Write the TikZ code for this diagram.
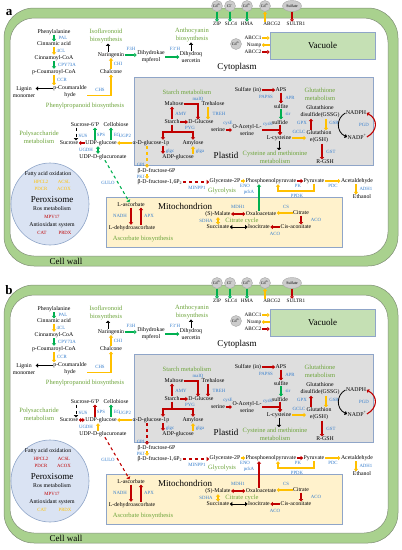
\documentclass[tikz,border=0pt]{standalone}
\usepackage{fontspec}
\setmainfont{Liberation Serif}
\usetikzlibrary{arrows.meta,shapes.geometric}

\definecolor{mred}{RGB}{192,0,0}
\definecolor{myel}{RGB}{255,192,0}
\definecolor{mgrn}{RGB}{0,176,80}
\definecolor{mblue}{RGB}{52,125,205}
\definecolor{mtitle}{RGB}{110,165,60}
\definecolor{wallg}{RGB}{169,209,142}
\definecolor{wallline}{RGB}{125,140,115}
\definecolor{vacg}{RGB}{197,224,180}
\definecolor{plastg}{RGB}{222,222,222}
\definecolor{mitoy}{RGB}{255,242,204}
\definecolor{peroxb}{RGB}{218,227,243}
\definecolor{boxline}{RGB}{143,165,200}
% enzyme text colours, one per panel
\colorlet{aFA}{myel}\colorlet{bFA}{mred}
\colorlet{aAOX}{mred}\colorlet{bAOX}{myel}

\newcommand{\cellpanel}[1]{%
  % cell wall and compartments
  \draw[wall] (4,8) rectangle (398,266);
  \draw[wall,fill=white,rounded corners=24pt] (10,18) rectangle (388,256);
  \draw[box,fill=plastg] (134,77) rectangle (373,165);
  \draw[box,fill=mitoy] (106,197) rectangle (342,247);
  \draw[box,fill=peroxb] (50,204) ellipse [x radius=39pt,y radius=41pt];
  \node[box,fill=vacg,comp,minimum width=105,minimum height=27] (vac) at (322.5,45.5) {Vacuole};
  \node[font=\bfseries\fontsize{13}{13}\selectfont,inner sep=0pt] (tag) at (9,13) {#1};
  \node[comp] (wallname) at (66,261) {Cell wall};
  \node[comp] (cyto) at (237,67) {Cytoplasm};
  \node[comp] (plastname) at (226,155) {Plastid};
  \node[comp] (mitoname) at (185,206) {Mitochondrion};
  \node[comp] (peroxname) at (52,200) {Peroxisome};
  % transport at the membranes
  \node[ion] (cd1) at (217,6) {Cd\textsuperscript{2+}};
  \node[ion] (cl) at (230,6) {Cl\textsuperscript{−}};
  \node[ion] (cd2) at (247,6) {Cd\textsuperscript{2+}};
  \node[ion] (cd3) at (265,6) {Cd\textsuperscript{2+}};
  \node[ion,ellipse,minimum width=19pt,minimum height=11pt] (sulf) at (292,6) {Sulfate};
  \node[tp] (zip) at (217,24) {ZIP};
  \node[tp] (slc) at (231,24) {SLC4};
  \node[tp] (hma) at (247,24) {HMA};
  \node[tp] (abcg) at (272,24) {ABCG2};
  \node[tp] (sultr) at (296,24) {SULTR1};
  \node[ion] (cdv) at (236,44) {Cd\textsuperscript{2+}};
  \node[tp] (abcc1) at (253,38) {ABCC1};
  \node[tp] (nramp) at (254,45) {Nramp};
  \node[tp] (abcc2) at (253,52) {ABCC2};
  \draw[gn] (cd1) -- (zip);
  \draw[gn] (cl) -- (cl |- slc.north);
  \draw[gn] (cd2) -- (hma);
  \draw[yl] (cd3 |- abcg.north) -- (cd3);
  \draw[rd] (sulf) -- (sulf |- sultr.north);
  \draw[yl] (abcc1) -- (abcc1 -| vac.west);
  \draw[yl] (nramp -| vac.west) -- (nramp);
  \draw[rd] (abcc2) -- (abcc2 -| vac.west);
  % phenylpropanoid
  \node[txt] (phe) at (54,32) {Phenylalanine};
  \node[txt] (cin) at (54,44) {Cinnamic acid};
  \node[txt] (cinc) at (54,58) {Cinnamoyl-CoA};
  \node[txt] (pcou) at (54,72) {p-Coumaroyl-CoA};
  \node[txt] (pcald) at (70,92) {p-Coumaralde\\hyde};
  \node[txt] (lig) at (24,92) {Lignin\\monomer};
  \node[txt] (cha) at (111,72) {Chalcone};
  \node[txt] (nar) at (111,55) {Naringenin};
  \node[txt] (dhk) at (151,57) {Dihydrokae\\mpferol};
  \node[txt] (dhq) at (191,57) {Dihydroq\\uercetin};
  \node[ttl] (isoT) at (106,36) {Isoflavonoid\\biosynthesis};
  \node[ttl] (anthoT) at (192,35) {Anthocyanin\\biosynthesis};
  \node[ttl] (phenT) at (85,106) {Phenylpropanoid biosynthesis};
  \node[enz] (lPAL) at (63,38) {PAL};
  \node[enz] (l4CL) at (61,51) {4CL};
  \node[enz] (lCPY) at (67,65) {CPY73A};
  \node[enz] (lCCR) at (62,80) {CCR};
  \node[enz] (lCHS) at (100,90) {CHS};
  \node[enz] (lCHI) at (118,64) {CHI};
  \node[enz] (lF3H) at (131,49) {F3H};
  \node[enz] (lF3pH) at (175,49) {F3'H};
  \draw[gn] (phe) -- (cin);
  \draw[yl] (cin) -- (cinc);
  \draw[gn] (cinc) -- (pcou);
  \draw[yl] (pcou) -- (pcou |- pcald.north);
  \draw[bk] ([yshift=3.5pt]pcald.west) -- ([yshift=3.5pt]lig.east);
  \draw[yl] ([yshift=-3.5pt]pcald.east) -| (cha);
  \draw[yl] (cha) -- (nar);
  \draw[bk] ([xshift=-3pt]nar.north) -- ([xshift=-3pt]nar.north |- isoT.south);
  \draw[gn] (nar) -- (nar -| dhk.west);
  \draw[gn] (dhk) -- (dhq);
  \draw[bk] (dhq) -- (dhq |- anthoT.south);
  % polysaccharide
  \node[ttl] (polyT) at (39,137) {Polysaccharide\\metabolism};
  \node[txt] (s6p) at (85,125) {Sucrose-6'P};
  \node[txt] (cello) at (116,125) {Cellobiose};
  \node[txt] (suc) at (69,143) {Sucrose};
  \node[txt] (udpg) at (101,143) {UDP-glucose};
  \node[txt] (udpgl) at (103,157) {UDP-D-glucuronate};
  \node[enz] (lSUS) at (83,136) {SUS};
  \node[enz] (lSPS) at (101,135) {SPS};
  \node[enz] (lEG) at (117,135) {EG};
  \node[enz] (lUGDH) at (86,150) {UGDH};
  \node[enz] (lUGP2) at (125,136) {UGP2};
  \node[enz] (lGULO) at (108,183) {GULO};
  \draw[bk,dashed,line width=0.7pt] ([xshift=-9pt]s6p.south) -- ([xshift=-9pt]s6p.south |- suc.north);
  \draw[#1SUS] (udpg) -- (suc);
  \draw[#1SPS] ([xshift=-6pt]udpg.north) -- ([xshift=-6pt]udpg.north |- s6p.south);
  \draw[gn] ([xshift=10pt]udpg.north) -- ([xshift=10pt]udpg.north |- cello.south);
  \draw[#1UGDH] ([xshift=-3pt]udpg.south) -- ([xshift=-3pt]udpg.south |- udpgl.north);
  % plastid: starch
  \node[ttl] (starchT) at (187,92) {Starch metabolism};
  \node[txt] (malt) at (174,104) {Maltose};
  \node[txt] (treh) at (213,104) {Trehalose};
  \node[txt] (starch) at (172,122) {Starch};
  \node[txt] (dglc) at (201,122) {D-Glucose};
  \node[txt] (ser) at (218,130) {serine};
  \node[txt] (oas) at (247,130) {O-Acetyl-L-\\serine};
  \node[txt] (a1p) at (151,143) {α-D-glucose-1p};
  \node[txt] (amyl) at (193,143) {Amylose};
  \node[txt] (adpg) at (178,157) {ADP-glucose};
  \coordinate (bl) at (163,132);
  \coordinate (br) at (193,132);
  \node[enz] (lmalQ) at (198,99) {malQ};
  \node[enz] (lAMY) at (181,114) {AMY};
  \node[enz] (lTREH) at (219,114) {TREH};
  \node[enz] (lPYG) at (190,127.5) {PYG};
  \node[enz] (lglgc) at (170,151) {glgc};
  \node[enz] (lglga) at (200,151) {glga};
  \node[enz] (lcysE) at (228,123) {cysE};
  \node[enz] (lcysK) at (268,124) {cysK};
  \draw[rd] (malt) -| ([xshift=-3pt]dglc.north);
  \draw[#1TREH] ([xshift=-5pt]treh.south) -- ([xshift=-5pt]treh.south |- dglc.north);
  \draw[rd] (starch) -- (starch |- malt.south);
  \draw[rd] (starch) -- (dglc);
  \draw[rd,-] (starch) -- (starch |- bl);
  \draw[rd,<->] (bl |- a1p.north) -- (bl) -- (br) -- (br |- amyl.north);
  \draw[rd] (bl |- a1p.south) -- (bl |- adpg.north);
  \draw[yl] (br |- adpg.north) -- (br |- amyl.south);
  \draw[yl] (a1p) -- (udpg);
  \draw[rd] (ser) -- (oas);
  % plastid: sulfur and glutathione
  \node[txt] (sulfin) at (248,90) {Sulfate (in)};
  \node[txt] (aps) at (281,90) {APS};
  \node[txt] (sulfite) at (281,106) {sulfite};
  \node[txt] (sulfide) at (280,122) {sulfide};
  \node[txt] (lcys) at (279,138) {L-cysteine};
  \node[ttl] (cysmetT) at (275,157) {Cysteine and methionine\\metabolism};
  \node[ttl] (gluT) at (320,94) {Glutathione\\metabolism};
  \node[txt] (gssg) at (320,112) {Glutathione\\disulfide(GSSG)};
  \node[txt] (gsh) at (319,137) {Glutathion\\e(GSH)};
  \node[txt] (rgsh) at (325,162) {R-GSH};
  \node[txt] (nadph) at (356,113) {NADPH};
  \node[txt] (nadp) at (357,137) {NADP\textsuperscript{+}};
  \node[enz] (lPAPSS) at (266,97) {PAPSS};
  \node[enz] (lAPR) at (290,98) {APR};
  \node[enz] (lsir) at (288,114) {sir};
  \node[enz] (lGCLC) at (299,132) {GCLC};
  \node[enz] (lGPX) at (302,123) {GPX};
  \node[enz] (lGSR) at (334,123) {GSR};
  \node[enz] (lGST) at (331,152) {GST};
  \node[enz] (lPGD) at (364,125) {PGD};
  \draw[rd] (sulfin) -- (aps);
  \draw[rd] (aps) -- (aps |- sulfite.north);
  \draw[gn] (sulfite) -- (sulfite |- sulfide.north);
  \draw[rd] (sulfide) -- (sulfide |- lcys.north);
  \draw[rd] (oas) -| (sulfide |- lcys.north);
  \draw[bk] (lcys) -- (lcys |- cysmetT.north);
  \draw[yl] (lcys) -- (lcys -| gsh.west);
  \draw[rd] ([xshift=-8pt]gsh.north) -- ([xshift=-8pt]gsh.north |- gssg.south);
  \draw[yl] ([xshift=6pt]gssg.south) -- ([xshift=6pt]gssg.south |- gsh.north);
  \draw[rd] ([xshift=3pt]gsh.south) -- ([xshift=3pt]gsh.south |- rgsh.north);
  \draw[bk,line width=0.8pt] (nadph.west) .. controls (336,118) and (336,132) .. (nadp.west);
  \draw[rd,line width=1.1pt] (nadp.east) .. controls (378,131) and (378,119) .. (nadph.east);
  % glycolysis
  \node[txt,anchor=west] (f6p) at (137,171) {β-D-fructose-6P};
  \node[txt,anchor=west] (f16p) at (137,182) {β-D-fructose-1,6P\textsubscript{2}};
  \node[txt] (gly2p) at (225,181) {Glycerate-2P};
  \node[txt] (pep) at (271,181) {Phosphoenolpyruvate};
  \node[txt] (pyr) at (314,181) {Pyruvate};
  \node[txt] (acet) at (357,181) {Acetaldehyde};
  \node[txt] (eth) at (362,197) {Ethanol};
  \node[ttl] (glycT) at (222,191) {Glycolysis};
  \node[enz,anchor=east] (lGPI) at (145,165) {GPI};
  \node[enz,anchor=east] (lPKf) at (145,176.5) {PKf};
  \node[enz] (lMINPP1) at (197,188) {MINPP1};
  \node[enz] (lENO) at (245,186) {ENO};
  \node[enz] (lpckA) at (249,192) {pckA};
  \node[enz] (lPK) at (298,186) {PK};
  \node[enz] (lPPDK) at (297,196) {PPDK};
  \node[enz] (lPDC) at (333,186) {PDC};
  \node[enz,anchor=west] (lADH1) at (359,189) {ADH1};
  \draw[#1GPI] ([xshift=-4pt]a1p.south) -- ([xshift=-4pt]a1p.south |- f6p.north);
  \draw[yl] ([xshift=10pt]f6p.south west) -- ([xshift=10pt]f6p.south west |- f16p.north);
  \draw[rd,dashed,line width=1.1pt] (f16p) -- (f16p -| gly2p.west);
  \draw[yl] (gly2p) -- (pep);
  \draw[rd] (pep) -- (pyr);
  \draw[yl] (pyr) -- (acet);
  \draw[yl] ([xshift=-1pt]acet.south) -- ([xshift=-1pt]acet.south |- eth.north);
  \draw[yl] (pyr.south) -- ++(0,7) -| ([xshift=7pt]pep.south);
  % mitochondrion
  \node[txt] (lasc) at (131,205) {L-ascorbate};
  \node[txt] (ldha) at (132,228) {L-dehydroascorbate};
  \node[ttl] (ascT) at (143,239) {Ascorbate biosynthesis};
  \node[txt] (malate) at (218,214) {(S)-Malate};
  \node[txt] (oxa) at (261,214) {Oxaloacetate};
  \node[txt] (citr) at (301,213) {Citrate};
  \node[txt] (succ) at (218,227) {Succinate};
  \node[txt] (iso2) at (259,227) {Isocitrate};
  \node[txt] (cis) at (296,227) {Cis-aconitate};
  \node[ttl] (citT) at (242,220.5) {Citrate cycle};
  \node[enz] (lNADH) at (120,216) {NADH};
  \node[enz] (lAPX) at (149,216) {APX};
  \node[enz] (lMDH1) at (238,207) {MDH1};
  \node[enz] (lSDHA) at (206,221) {SDHA};
  \node[enz] (lCS) at (286,207) {CS};
  \node[enz] (lACO) at (316,220) {ACO};
  \node[enz] (lACOb) at (275,234) {ACO};
  \draw[rd] (lasc) -- (lasc |- ldha.north);
  \draw[rd] ([xshift=9pt]ldha.north) -- ([xshift=9pt]ldha.north |- lasc.south);
  \draw[rd,<->] (malate) -- (malate -| oxa.west);
  \draw[yl,dashed,<->,line width=1.1pt] (malate) -- (succ);
  \draw[bk,<->] (succ) -- (iso2);
  \draw[rd] (cis) -- (iso2);
  \draw[yl] (citr) -- (citr -| oxa.east);
  \draw[rd] (citr) -- (citr |- cis.north);
  \draw[#1pckA] ([xshift=-2pt]oxa.north) -- ([xshift=-2pt]oxa.north |- pep.south);
  \draw[#1GULO] (udpgl) -- (lasc);
  % peroxisome
  \node[txt] (faox) at (48,174) {Fatty acid oxidation};
  \node[enz,text=#1FA] (hpcl) at (41,182) {HPCL2};
  \node[enz,text=#1FA] (acsl) at (64,182) {ACSL};
  \node[enz,text=#1FA] (pdcr) at (41,189) {PDCR};
  \node[enz,text=#1FA] (acox) at (64,189) {ACOX};
  \node[txt] (ros) at (52,209) {Ros metabolism};
  \node[enz,text=mred] (mpv) at (52,217) {MPV17};
  \node[txt] (antiox) at (52,225) {Antioxidant system};
  \node[enz,text=#1AOX] (cat) at (42,233) {CAT};
  \node[enz,text=#1AOX] (prdx) at (65,233) {PRDX};
}

\begin{document}
\begin{tikzpicture}[x=1pt,y=-1pt,
    >={Triangle[length=2.4pt,width=4.2pt]},
    txt/.style={font=\fontsize{5.8}{7}\selectfont,inner sep=0.4pt,align=center},
    enz/.style={font=\fontsize{4.8}{5}\selectfont,text=mblue,inner sep=0.3pt},
    tp/.style={font=\fontsize{5.2}{6}\selectfont,inner sep=0.4pt},
    ttl/.style={font=\fontsize{6.5}{7.8}\selectfont,text=mtitle,align=center,inner sep=0.4pt},
    comp/.style={font=\fontsize{9}{10}\selectfont,inner sep=0.4pt},
    ion/.style={circle,draw=gray!70,fill=gray!40,minimum size=11pt,inner sep=0pt,
                font=\fontsize{4}{4}\selectfont},
    wall/.style={draw=wallline,fill=wallg,line width=0.5pt,rounded corners=30pt},
    box/.style={draw=boxline,line width=0.6pt},
    ar/.style={line width=1.5pt,->},
    rd/.style={ar,draw=mred},
    yl/.style={ar,draw=myel},
    gn/.style={ar,draw=mgrn},
    bk/.style={line width=0.9pt,->,draw=black},
    aSUS/.style={rd}, bSUS/.style={rd,<->},
    aSPS/.style={gn}, bSPS/.style={rd},
    aUGDH/.style={gn,<->}, bUGDH/.style={yl,<-},
    aGULO/.style={gn,dashed,line width=1.1pt}, bGULO/.style={rd,dashed,line width=1.1pt},
    aTREH/.style={yl}, bTREH/.style={rd},
    aGPI/.style={yl,dashed,line width=1.1pt}, bGPI/.style={rd,dashed,line width=1.1pt},
    apckA/.style={gn}, bpckA/.style={rd}]
  \useasboundingbox (0,0) rectangle (402,550);
  \cellpanel{a}
  \begin{scope}[yshift=-277pt]
    \cellpanel{b}
  \end{scope}
\end{tikzpicture}
\end{document}
